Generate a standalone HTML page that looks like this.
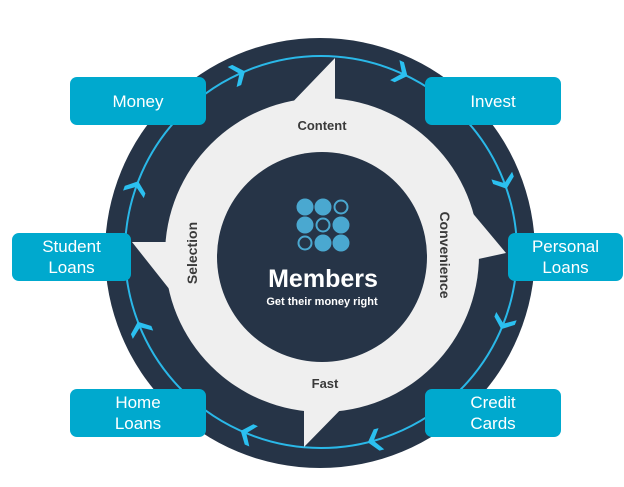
<!DOCTYPE html>
<html><head><style>
html,body{margin:0;padding:0;background:#fff;}
body{width:624px;height:487px;position:relative;overflow:hidden;font-family:"Liberation Sans",sans-serif;}
.b{position:absolute;background:#00a9ce;border-radius:7px;color:#fff;font-size:17px;line-height:21px;text-align:center;display:flex;align-items:center;justify-content:center;}
</style></head><body>
<svg width="624" height="487" style="position:absolute;left:0;top:0">
<circle cx="320" cy="253" r="215" fill="#263447"/>
<circle cx="321" cy="252" r="196" fill="none" stroke="#2ab8e8" stroke-width="2"/>
<defs><path id="ch" d="M311,45 L316,45 L325,56 L316,67 L311,67 L319,56 Z"/></defs>
<g fill="#2bc0f0">
<use href="#ch" transform="rotate(-24 321 252)"/>
<use href="#ch" transform="rotate(25 321 252)"/>
<use href="#ch" transform="rotate(70 321 252)"/>
<use href="#ch" transform="rotate(112 321 252)"/>
<use href="#ch" transform="rotate(165 321 252)"/>
<use href="#ch" transform="rotate(203 321 252)"/>
<use href="#ch" transform="rotate(248 321 252)"/>
<use href="#ch" transform="rotate(290 321 252)"/>
</g>
<g fill="#efefef">
<circle cx="322" cy="255" r="157"/>
<path d="M335,58 L335,110 L285,110 Z"/>
<path d="M506,253 L460,263 L470,210 Z"/>
<path d="M304,447 L304,400 L350,400 Z"/>
<path d="M132,242 L180,242 L170,290 Z"/>
</g>
<circle cx="322" cy="257" r="105" fill="#263447"/>
<g fill="#4aa8d0" stroke="#4aa8d0" stroke-width="2">
<circle cx="305" cy="207" r="7.5"/><circle cx="323" cy="207" r="7.5"/><circle cx="341" cy="207" r="6.5" fill="none"/>
<circle cx="305" cy="225" r="7.5"/><circle cx="323" cy="225" r="6.5" fill="none"/><circle cx="341" cy="225" r="7.5"/>
<circle cx="305" cy="243" r="6.5" fill="none"/><circle cx="323" cy="243" r="7.5"/><circle cx="341" cy="243" r="7.5"/>
</g>
<g font-family="Liberation Sans,sans-serif" font-weight="bold" fill="#3a3a3a" font-size="13" text-anchor="middle">
<text x="322" y="130">Content</text>
<text x="325" y="388">Fast</text>
<text transform="translate(440,255) rotate(90)" font-size="14">Convenience</text>
<text transform="translate(197,253) rotate(-90)" font-size="14">Selection</text>
</g>
<text x="323" y="287" font-family="Liberation Sans,sans-serif" font-weight="bold" font-size="25" fill="#fff" text-anchor="middle">Members</text>
<text x="322" y="305" font-family="Liberation Sans,sans-serif" font-weight="bold" font-size="11" fill="#fff" text-anchor="middle">Get their money right</text>
</svg>
<div class="b" style="left:70px;top:77px;width:136px;height:48px">Money</div>
<div class="b" style="left:425px;top:77px;width:136px;height:48px">Invest</div>
<div class="b" style="left:12px;top:233px;width:119px;height:48px">Student<br>Loans</div>
<div class="b" style="left:508px;top:233px;width:115px;height:48px">Personal<br>Loans</div>
<div class="b" style="left:70px;top:389px;width:136px;height:48px">Home<br>Loans</div>
<div class="b" style="left:425px;top:389px;width:136px;height:48px">Credit<br>Cards</div>
</body></html>
